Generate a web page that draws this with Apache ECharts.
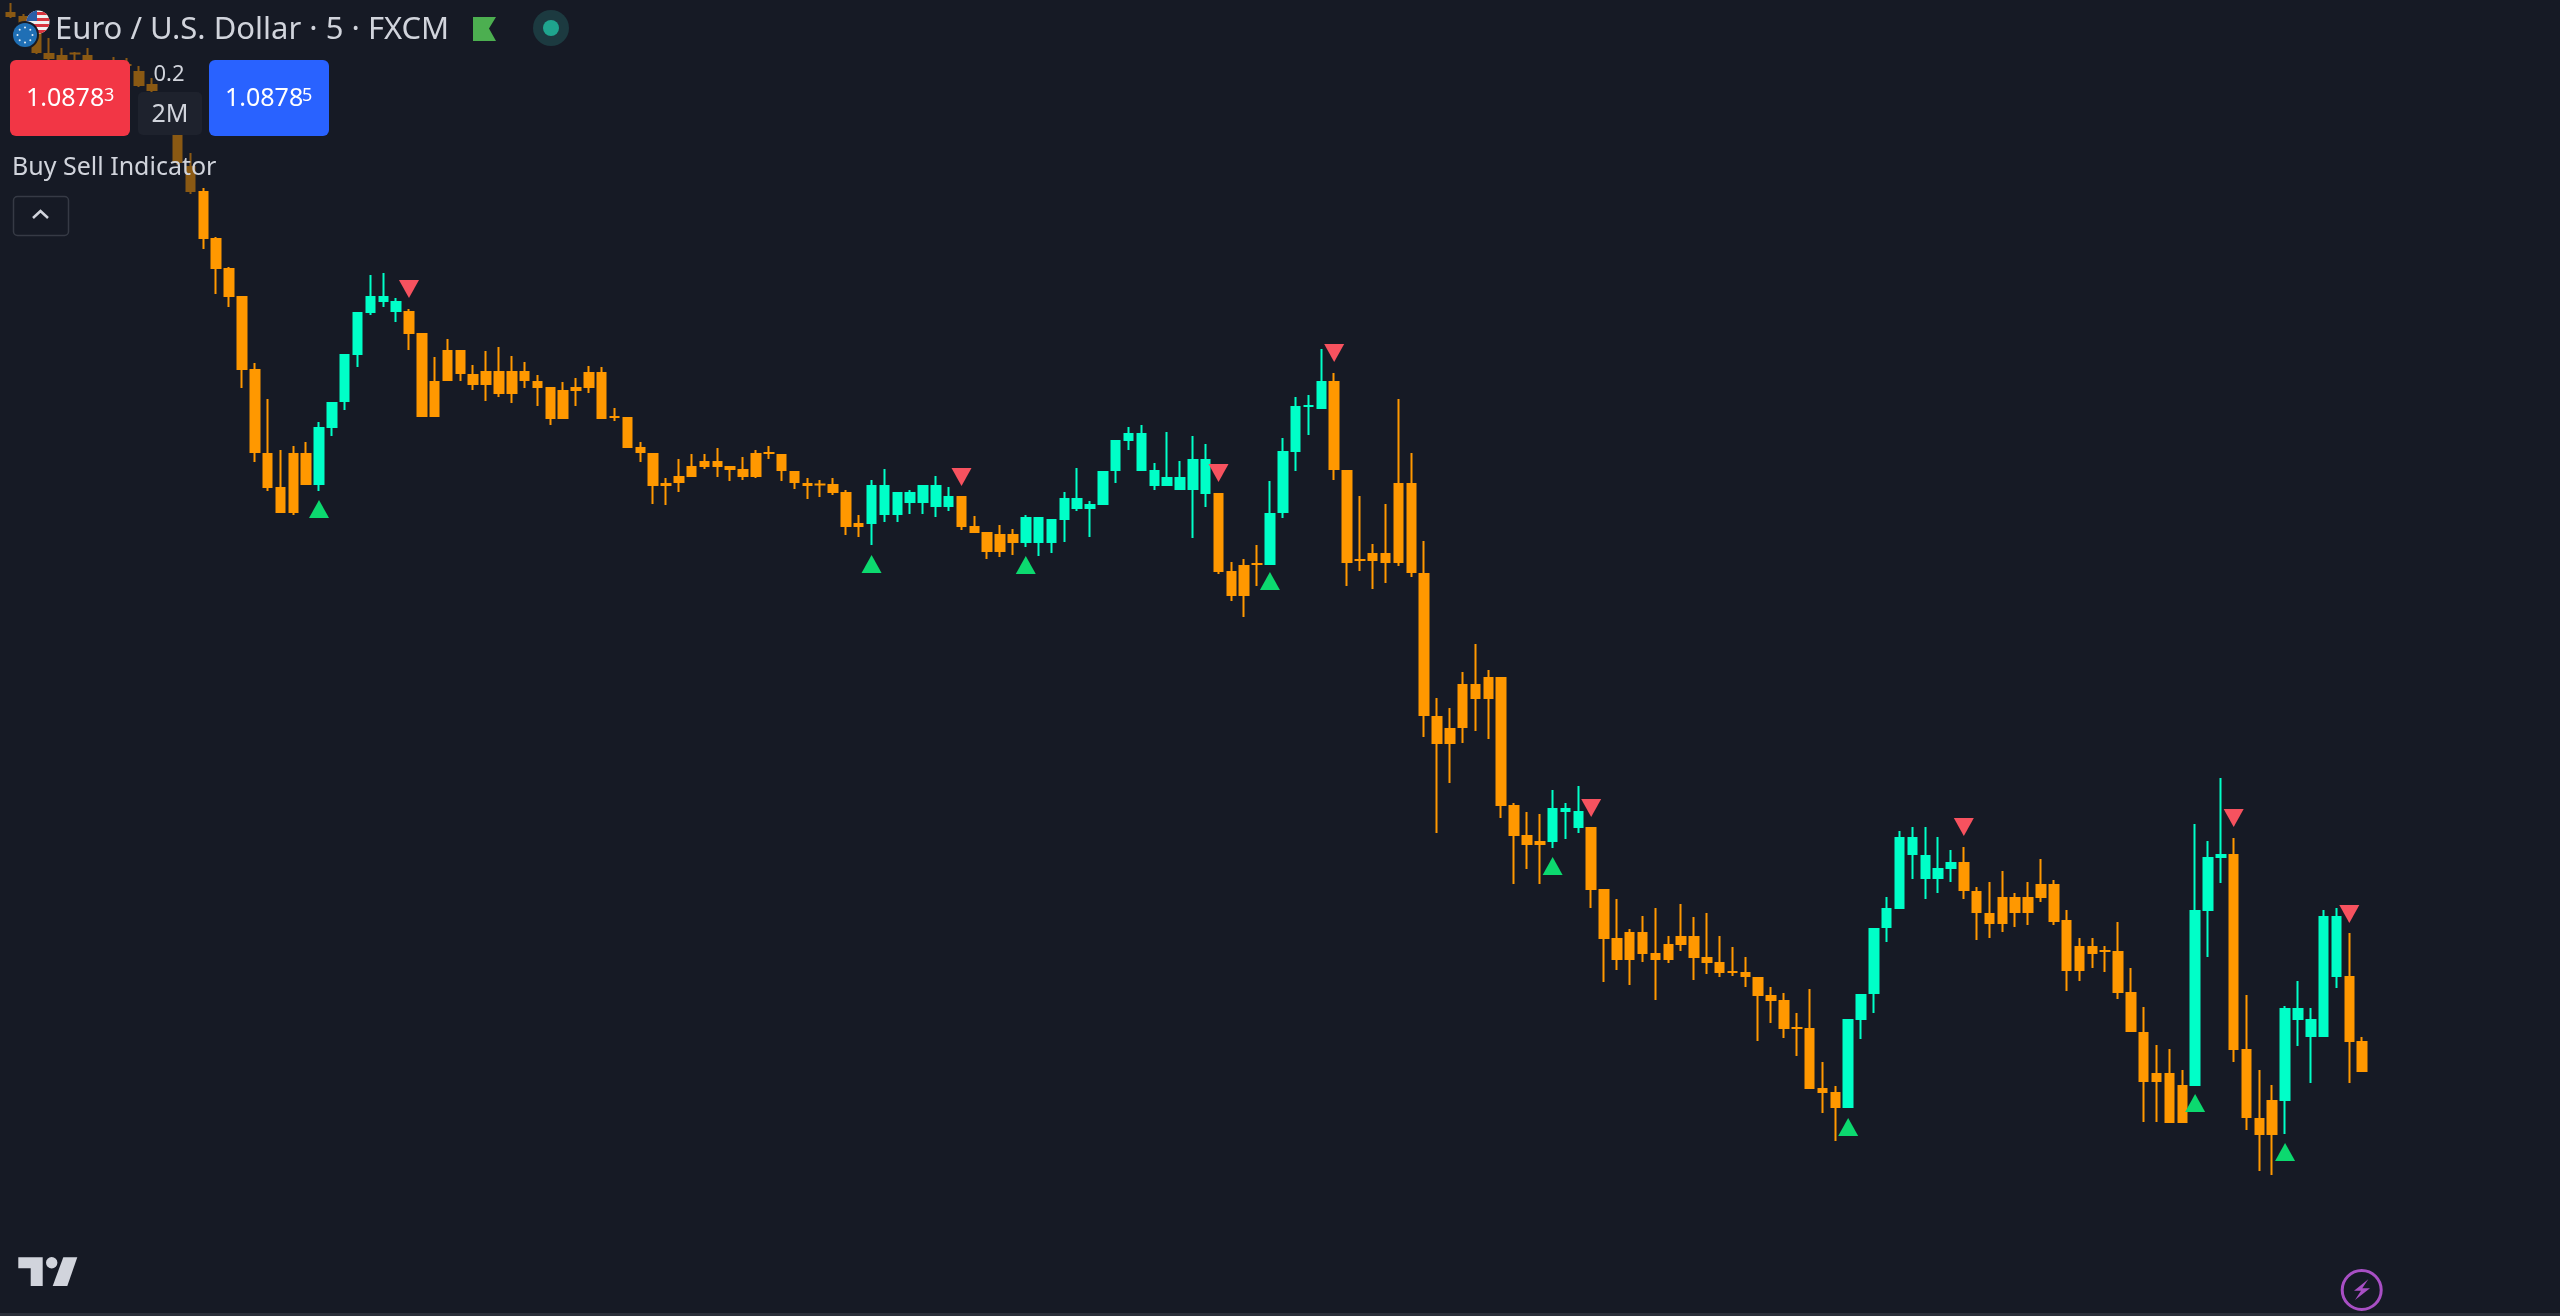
<!DOCTYPE html>
<html>
<head>
<meta charset="utf-8">
<title>Euro / U.S. Dollar</title>
<script src="https://cdn.jsdelivr.net/npm/echarts@6/dist/echarts.min.js"></script>
<style>
  html, body { margin: 0; padding: 0; background: #161a25; }
  #chart { width: 2560px; height: 1316px; }
</style>
</head>
<body>
<div id="chart"></div>
<script>
// prices are in points (1.09000 -> 109000)
const opens = [
  109988,109984,109968,109947,109945,109947,109945,109938,109937,109936,
  109929,109916,109907,109875,109834,109809,109762,109732,109704,109631,
  109547,109513,109547,109547,109515,109572,109598,109645,109687,109698,
  109688,109689,109667,109619,109650,109650,109626,109629,109629,109629,
  109629,109619,109613,109610,109613,109628,109628,109584,109583,109553,
  109547,109517,109524,109534,109539,109539,109534,109531,109547,109548,
  109546,109529,109517,109516,109516,109508,109477,109476,109485,109485,
  109497,109497,109493,109493,109504,109474,109468,109466,109466,109457,
  109457,109457,109480,109491,109491,109495,109529,109559,109529,109514,
  109514,109510,109510,109506,109507,109429,109435,109437,109435,109487,
  109548,109593,109591,109619,109530,109441,109447,109447,109517,109517,
  109427,109284,109272,109316,109316,109323,109323,109195,109165,109159,
  109158,109188,109172,109173,109111,109062,109068,109068,109047,109056,
  109064,109064,109043,109038,109029,109028,109023,109005,109000,108973,
  108972,108912,108908,108892,108980,109006,109072,109091,109145,109121,
  109121,109131,109138,109109,109087,109103,109103,109103,109116,109116,
  109080,109054,109054,109050,109049,109008,108968,108927,108927,108915,
  108914,109089,109142,109146,108951,108882,108900,108899,108980,108963,
  108963,109023,109024,108959
];
const closes = [
  109983,109968,109947,109941,109938,109946,109938,109934,109932,109934,
  109914,109909,109875,109837,109808,109761,109731,109703,109630,109547,
  109512,109487,109487,109515,109573,109598,109646,109688,109704,109704,
  109699,109666,109583,109583,109619,109626,109615,109615,109606,109606,
  109619,109612,109581,109581,109609,109612,109581,109582,109552,109547,
  109514,109514,109517,109523,109533,109533,109530,109523,109523,109546,
  109529,109517,109514,109515,109507,109473,109473,109515,109515,109508,
  109508,109515,109515,109504,109473,109467,109448,109448,109457,109483,
  109483,109481,109502,109502,109496,109529,109560,109567,109567,109530,
  109523,109523,109541,109541,109428,109404,109404,109435,109487,109549,
  109594,109595,109619,109530,109437,109439,109439,109437,109437,109427,
  109284,109256,109256,109272,109301,109301,109194,109164,109155,109155,
  109192,109192,109189,109110,109061,109040,109040,109046,109040,109040,
  109055,109042,109037,109027,109027,109023,109004,108999,108971,108971,
  108911,108907,108892,108981,109006,109072,109092,109163,109163,109145,
  109132,109138,109109,109087,109076,109076,109087,109087,109102,109078,
  109029,109029,109046,109048,109007,108968,108918,108918,108877,108877,
  109090,109143,109146,108950,108882,108865,108865,108992,108992,108981,
  109084,109084,108958,108928
];
const lows = [
  109982,109967,109946,109940,109936,109938,109936,109930,109928,109930,
  109913,109908,109870,109835,109806,109751,109706,109693,109612,109538,
  109509,109487,109485,109515,109509,109564,109590,109633,109685,109693,
  109678,109650,109583,109583,109619,109619,109610,109599,109603,109597,
  109612,109594,109575,109581,109594,109607,109581,109579,109552,109538,
  109496,109495,109508,109523,109531,109523,109519,109520,109522,109541,
  109519,109511,109501,109503,109505,109465,109463,109455,109478,109478,
  109486,109486,109483,109489,109470,109467,109441,109443,109445,109453,
  109444,109447,109458,109489,109463,109495,109517,109550,109529,109510,
  109514,109510,109462,109493,109426,109399,109383,109414,109435,109482,
  109529,109565,109591,109520,109414,109429,109411,109417,109434,109423,
  109263,109167,109217,109257,109269,109261,109182,109116,109131,109116,
  109152,109161,109167,109092,109018,109030,109015,109038,109000,109037,
  109049,109020,109026,109023,109024,109013,108959,108977,108962,108944,
  108911,108887,108859,108892,108961,108987,109058,109091,109121,109101,
  109107,109118,109101,109060,109062,109068,109073,109075,109098,109075,
  109009,109019,109032,109028,109001,108968,108878,108878,108877,108877,
  108914,109043,109117,108938,108870,108829,108825,108866,108954,108917,
  108963,109012,108917,108928
];
const highs = [
  109997,109986,109970,109962,109952,109948,109952,109939,109943,109942,
  109934,109922,109908,109880,109847,109812,109763,109733,109704,109637,
  109601,109550,109554,109558,109578,109598,109646,109688,109725,109727,
  109702,109691,109667,109643,109661,109650,109635,109649,109653,109644,
  109638,109625,109613,109618,109622,109634,109633,109592,109583,109558,
  109547,109522,109541,109546,109546,109552,109534,109543,109550,109554,
  109546,109529,109522,109520,109522,109510,109485,109520,109531,109508,
  109510,109515,109524,109513,109504,109484,109468,109475,109471,109485,
  109483,109481,109508,109532,109499,109529,109560,109573,109575,109537,
  109568,109539,109564,109556,109507,109438,109441,109455,109519,109562,
  109603,109605,109651,109627,109530,109504,109456,109496,109601,109547,
  109459,109302,109292,109328,109356,109330,109323,109197,109188,109186,
  109210,109197,109214,109173,109111,109101,109071,109084,109092,109064,
  109096,109083,109087,109064,109053,109043,109023,109013,109007,108987,
  109011,108938,108914,108981,109006,109072,109103,109169,109173,109173,
  109163,109150,109153,109113,109118,109129,109107,109118,109141,109120,
  109090,109062,109062,109054,109078,109032,108993,108955,108951,108930,
  109176,109159,109222,109162,109005,108930,108915,108994,109019,108992,
  109090,109092,109067,108963
];
const buyBars = [24, 67, 79, 98, 120, 143, 170, 177];
const buyPrices = [109491, 109436, 109435, 109419, 109134, 108873, 108897, 108848];
const sellBars = [31, 74, 94, 103, 123, 152, 173, 182];
const sellPrices = [109711, 109523, 109527, 109647, 109192, 109173, 109182, 109086];

const priceMin = 108684;
const priceMax = 110000;

const bars = opens.map((_, i) => i);

// the 2px border adds a pixel on each side of a body, take it back here
const candles = bars.map(i => {
  const o = opens[i], c = closes[i];
  const d = Math.abs(o - c);
  const k = (d > 2 ? 1 : d / 2 - 0.01) * (o > c ? 1 : -1);
  return [o - k, c + k, lows[i], highs[i]];
});

const TEXT = '#d1d4dc';
const FONT = '"Noto Sans"';

const flagSvg = '<svg xmlns="http://www.w3.org/2000/svg" width="44" height="44" viewBox="0 0 44 44">' +
  '<defs><clipPath id="u"><circle cx="27" cy="14" r="11.5"/></clipPath></defs>' +
  '<g clip-path="url(#u)"><rect x="14" y="2" width="26" height="24" fill="#f0f0f0"/>' +
  '<rect x="14" y="4" width="26" height="3" fill="#d8343f"/><rect x="14" y="10" width="26" height="3" fill="#d8343f"/>' +
  '<rect x="14" y="16" width="26" height="3" fill="#d8343f"/><rect x="14" y="22" width="26" height="3" fill="#d8343f"/>' +
  '<rect x="14" y="2" width="12" height="11" fill="#2a5fa8"/></g>' +
  '<circle cx="14" cy="27" r="14" fill="#161a25"/><circle cx="14" cy="27" r="12" fill="#1f6fb5"/>' +
  '<g fill="#e8eef5"><circle cx="14" cy="19.5" r="1"/><circle cx="19.3" cy="21.7" r="1"/><circle cx="21.5" cy="27" r="1"/>' +
  '<circle cx="19.3" cy="32.3" r="1"/><circle cx="14" cy="34.5" r="1"/><circle cx="8.7" cy="32.3" r="1"/>' +
  '<circle cx="6.5" cy="27" r="1"/><circle cx="8.7" cy="21.7" r="1"/></g></svg>';

function label(text, x, y, size, fill, align) {
  return {
    type: 'text', z: 30,
    style: { text: text, x: x, y: y, fill: fill || TEXT, fontSize: size, fontFamily: FONT, align: align || 'left', verticalAlign: 'middle' }
  };
}

const chart = echarts.init(document.getElementById('chart'));
chart.setOption({
  backgroundColor: '#161a25',
  animation: false,
  grid: { left: 4.2, top: 0, width: 2364.4, height: 1316 },
  xAxis: { type: 'category', data: bars, show: false },
  yAxis: { type: 'value', min: priceMin, max: priceMax, show: false },
  series: [
    {
      type: 'candlestick',
      data: candles,
      barWidth: 9,
      itemStyle: { color: '#00ffc8', color0: '#ff9800', borderColor: '#00ffc8', borderColor0: '#ff9800', borderWidth: 2 }
    },
    {
      type: 'scatter',
      data: buyBars.map((b, i) => [b, buyPrices[i]]),
      symbol: 'triangle',
      symbolSize: [20, 18],
      itemStyle: { color: '#0cd96f', opacity: 1 }
    },
    {
      type: 'scatter',
      data: sellBars.map((b, i) => [b, sellPrices[i]]),
      symbol: 'triangle',
      symbolRotate: 180,
      symbolSize: [20, 18],
      itemStyle: { color: '#f7525f', opacity: 1 }
    }
  ],
  graphic: [
    // the legend sits over the first bars and dims them
    { type: 'rect', z: 10, shape: { x: 0, y: 0, width: 197, height: 198 }, style: { fill: 'rgba(22,26,37,0.5)' } },
    { type: 'image', z: 30, style: { image: 'data:image/svg+xml;charset=utf-8,' + encodeURIComponent(flagSvg), x: 11, y: 8, width: 44, height: 44 } },
    label('Euro / U.S. Dollar · 5 · FXCM', 55, 30, 31),
    { type: 'polygon', z: 30, shape: { points: [[473, 17], [496, 17], [489, 28.5], [496, 41], [473, 41]] }, style: { fill: '#4caf50' } },
    { type: 'circle', z: 30, shape: { cx: 551, cy: 28, r: 18 }, style: { fill: '#1c3a40' } },
    { type: 'circle', z: 31, shape: { cx: 551, cy: 28, r: 8 }, style: { fill: '#1fa58e' } },

    { type: 'rect', z: 30, shape: { x: 10, y: 60, width: 120, height: 76, r: 6 }, style: { fill: '#f23645' } },
    { type: 'rect', z: 30, shape: { x: 209, y: 60, width: 120, height: 76, r: 6 }, style: { fill: '#2962ff' } },
    { type: 'rect', z: 30, shape: { x: 138, y: 92, width: 64, height: 43, r: 5 }, style: { fill: '#1e222d' } },
    label('1.0878', 26, 99, 25, '#ffffff'),
    label('3', 104, 96, 18, '#ffffff'),
    label('1.0878', 225, 99, 25, '#ffffff'),
    label('5', 302, 96, 18, '#ffffff'),
    label('0.2', 169, 75, 22, TEXT, 'center'),
    label('2M', 170, 115, 25, TEXT, 'center'),
    label('Buy Sell Indicator', 12, 168, 25),

    { type: 'rect', z: 30, shape: { x: 13.5, y: 196.5, width: 55, height: 39, r: 4 }, style: { fill: 'none', stroke: '#363a45', lineWidth: 1.5 } },
    { type: 'polyline', z: 30, shape: { points: [[33, 218], [40.5, 211], [48, 218]] }, style: { fill: 'none', stroke: TEXT, lineWidth: 2.5 } },

    // TradingView logo
    { type: 'polygon', z: 30, shape: { points: [[18.3, 1257.3], [42.7, 1257.3], [42.7, 1286], [30.7, 1286], [30.7, 1268.3], [18.3, 1268.3]] }, style: { fill: TEXT } },
    { type: 'circle', z: 30, shape: { cx: 51.7, cy: 1262.7, r: 5.7 }, style: { fill: TEXT } },
    { type: 'polygon', z: 30, shape: { points: [[63.3, 1257.3], [77.3, 1257.3], [67.3, 1286], [52.7, 1286]] }, style: { fill: TEXT } },

    { type: 'circle', z: 30, shape: { cx: 2361.7, cy: 1290, r: 19.5 }, style: { fill: 'none', stroke: '#a84fc4', lineWidth: 3 } },
    { type: 'polygon', z: 30, shape: { points: [[2368.3, 1279.3], [2354, 1290.7], [2361, 1290.7], [2355, 1300], [2370, 1288.3], [2362.3, 1288.3]] }, style: { fill: '#a84fc4' } },

    { type: 'rect', z: 30, shape: { x: 0, y: 1313, width: 2560, height: 3 }, style: { fill: '#2a2e39' } }
  ]
});
</script>
</body>
</html>
